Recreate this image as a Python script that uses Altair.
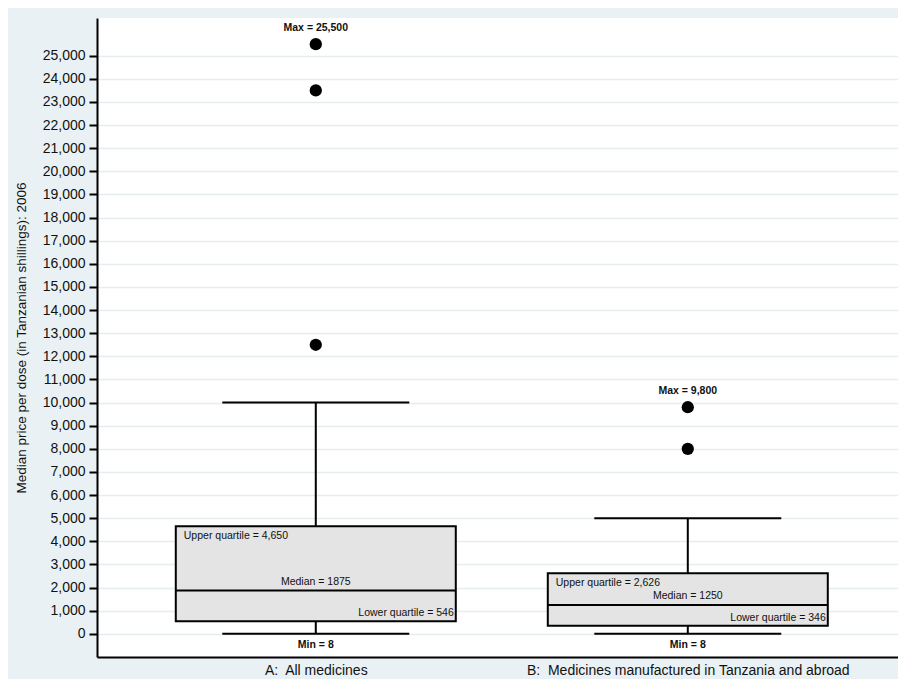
import altair as alt
import pandas as pd

groups = ["A:\u00a0 All medicines", "B:\u00a0 Medicines manufactured in Tanzania and abroad"]
mins = [8, 8]
q1 = [546, 346]
medians = [1875, 1250]
q3 = [4650, 2626]
upper = [10000, 5000]
maxes = [25500, 9800]

outlier_group = [groups[0], groups[0], groups[0], groups[1], groups[1]]
outlier_value = [12500, 23500, 25500, 8000, 9800]

max_labels = ["Max = 25,500", "Max = 9,800"]
q3_labels = ["Upper quartile = 4,650", "Upper quartile = 2,626"]
med_labels = ["Median = 1875", "Median = 1250"]
q1_labels = ["Lower quartile = 546", "Lower quartile = 346"]
min_labels = ["Min = 8", "Min = 8"]

y_ticks = [0, 1000, 2000, 3000, 4000, 5000, 6000, 7000, 8000, 9000, 10000,
           11000, 12000, 13000, 14000, 15000, 16000, 17000, 18000, 19000,
           20000, 21000, 22000, 23000, 24000, 25000]

df = pd.DataFrame({
    "group": groups, "min": mins, "q1": q1, "median": medians, "q3": q3,
    "upper": upper, "max": maxes, "max_label": max_labels,
    "q3_label": q3_labels, "med_label": med_labels, "q1_label": q1_labels,
    "min_label": min_labels,
})
out = pd.DataFrame({"group": outlier_group, "value": outlier_value})

FONT = "Liberation Sans"
BOX_W = 280
CAP_W = 187

x = alt.X("group:N", sort=groups, title=None,
          scale=alt.Scale(type="point", padding=0.5766, align=0.51),
          axis=alt.Axis(labelFontSize=14, labelFont=FONT, labelColor="#111",
                        ticks=False, domainColor="black", domainWidth=2,
                        labelPadding=6, labelAngle=0, grid=False, labelLimit=0))
yscale = alt.Scale(domain=[-1000, 26630], nice=False, zero=False)
y_axis = alt.Axis(values=y_ticks, format=",.0f", labelFontSize=14, labelFont=FONT,
                  labelColor="#111", tickColor="black", tickSize=8, tickWidth=2,
                  domainColor="black", domainWidth=2, gridColor="#e6edf0",
                  gridWidth=1.5, labelOverlap=False, tickCount=26,
                  title="Median price per dose (in Tanzanian shillings): 2006",
                  titleFont=FONT, titleFontSize=13.5, titleFontWeight="normal",
                  titleColor="#111", titlePadding=14, labelPadding=4)


def Y(field):
    return alt.Y(field, scale=yscale, axis=y_axis,
                 title="Median price per dose (in Tanzanian shillings): 2006")


base = alt.Chart(df).encode(x=x)

box = base.mark_bar(size=BOX_W, fill="#e4e4e4", stroke="black", strokeWidth=2).encode(
    y=Y("q1:Q"), y2="q3:Q")
whisk_hi = base.mark_rule(color="black", strokeWidth=2).encode(y=Y("q3:Q"), y2="upper:Q")
whisk_lo = base.mark_rule(color="black", strokeWidth=2).encode(y=Y("min:Q"), y2="q1:Q")
cap_hi = base.mark_tick(size=CAP_W, thickness=2, color="black", opacity=1).encode(y=Y("upper:Q"))
cap_lo = base.mark_tick(size=CAP_W, thickness=2, color="black", opacity=1).encode(y=Y("min:Q"))
med = base.mark_tick(size=BOX_W, thickness=2, color="black", opacity=1).encode(y=Y("median:Q"))

pts = alt.Chart(out).mark_circle(size=150, color="black", opacity=1).encode(
    x=alt.X("group:N", sort=groups), y=Y("value:Q"))

tfont = dict(font=FONT, fontSize=10.5, color="#111")
t_max = base.mark_text(baseline="bottom", dy=-11, fontWeight="bold", **tfont).encode(
    y=Y("max:Q"), text="max_label:N")
t_q3 = base.mark_text(align="left", baseline="top", dx=-BOX_W / 2 + 8, dy=5, **tfont).encode(
    y=Y("q3:Q"), text="q3_label:N")
t_med = base.mark_text(baseline="bottom", dy=-4, **tfont).encode(
    y=Y("median:Q"), text="med_label:N")
t_q1 = base.mark_text(align="right", baseline="bottom", dx=BOX_W / 2 - 2, dy=-3, **tfont).encode(
    y=Y("q1:Q"), text="q1_label:N")
t_min = base.mark_text(baseline="top", dy=6, fontWeight="bold", **tfont).encode(
    y=Y("min:Q"), text="min_label:N")

chart = alt.layer(box, whisk_hi, whisk_lo, cap_hi, cap_lo, med, pts,
                  t_max, t_q3, t_med, t_q1, t_min).properties(
    width=801, height=639,
    autosize=alt.AutoSizeParams(type="none"),
    padding={"left": 89, "top": 10, "right": 0, "bottom": 22},
    background="#e9f1f4",
).configure_view(fill="white", stroke=None)

chart.save("out.html", embed_options={"renderer": "svg", "actions": False})
